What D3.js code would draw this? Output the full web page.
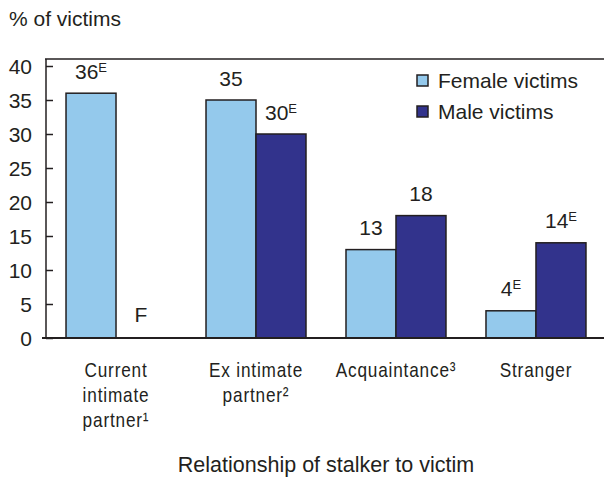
<!DOCTYPE html>
<html>
<head>
<meta charset="utf-8">
<script src="https://cdn.jsdelivr.net/npm/d3@7"></script>
<style>
  body { margin: 0; background: #fff; }
  text { font-family: "Liberation Sans", Arial, sans-serif; fill: #231f20; }
</style>
</head>
<body>
<div id="chart"></div>
<script>
// data
var categories = ["Current", "Ex", "Acquaintance", "Stranger"];
var catLines = [["Current", "intimate", "partner\u00b9"], ["Ex intimate", "partner\u00b2"], ["Acquaintance\u00b3"], ["Stranger"]];
var series = ["Female victims", "Male victims"];
var female = [36, 35, 13, 4];
var male = [null, 30, 18, 14];
var femaleLabel = ["36", "35", "13", "4"];
var femaleE = [true, false, false, true];
var maleLabel = ["F", "30", "18", "14"];
var maleE = [false, true, false, true];
var yTicks = [0, 5, 10, 15, 20, 25, 30, 35, 40];

var colors = ["#94c9ec", "#32338c"];

var svgWidth = 604, svgHeight = 478;
var fs = 21;

var svg = d3.select("#chart").append("svg")
  .attr("width", svgWidth)
  .attr("height", svgHeight);

var x0 = d3.scaleBand()
  .domain(categories)
  .range([46, 606])
  .paddingInner(0.2857)
  .paddingOuter(0.143);

var x1 = d3.scaleBand()
  .domain(series)
  .range([0, x0.bandwidth()]);

var y = d3.scaleLinear()
  .domain([0, 40])
  .range([338, 66]);

// rows of data per category
var rows = categories.map(function(c, i) {
  return [
    {cat: c, s: series[0], v: female[i], lab: femaleLabel[i], e: femaleE[i]},
    {cat: c, s: series[1], v: male[i], lab: maleLabel[i], e: maleE[i]}
  ];
});

// y axis, ticks pointing inward
var yAxis = svg.append("g")
  .attr("transform", "translate(46,0)")
  .call(d3.axisRight(y).tickValues(yTicks).tickSize(7).tickFormat(""));
yAxis.select(".domain").remove();
yAxis.selectAll("line").attr("stroke", "#231f20").attr("stroke-width", 1.5);

svg.selectAll(".ylab").data(yTicks).enter().append("text")
  .attr("x", 32)
  .attr("y", d => y(d) + 7.5)
  .attr("text-anchor", "end")
  .attr("font-size", fs)
  .text(d => d);

// frame lines
svg.append("line").attr("x1", 46).attr("x2", 46).attr("y1", 59).attr("y2", 338)
  .attr("stroke", "#231f20").attr("stroke-width", 1.5);
svg.append("line").attr("x1", 45).attr("x2", 604).attr("y1", 59).attr("y2", 59)
  .attr("stroke", "#231f20").attr("stroke-width", 1.5);

// bars
var groups = svg.selectAll(".grp").data(rows).enter().append("g")
  .attr("transform", (d, i) => "translate(" + x0(categories[i]) + ",0)");

groups.selectAll("rect").data(d => d.filter(r => r.v != null)).enter().append("rect")
  .attr("x", d => x1(d.s))
  .attr("y", d => y(d.v))
  .attr("width", x1.bandwidth())
  .attr("height", d => y(0) - y(d.v))
  .attr("fill", d => d.s == series[0] ? colors[0] : colors[1])
  .attr("stroke", "#231f20")
  .attr("stroke-width", 1.5);

var vlab = groups.selectAll(".vlab").data(d => d).enter().append("text")
  .attr("x", d => x1(d.s) + x1.bandwidth() / 2)
  .attr("y", d => (d.v == null ? y(0) - 16 : y(d.v) - 14.5))
  .attr("text-anchor", "middle")
  .attr("font-size", fs);
vlab.append("tspan").text(d => d.lab);
vlab.filter(d => d.e).append("tspan")
  .attr("font-size", 13)
  .attr("dy", -7)
  .text("E");

// bottom line
svg.append("line").attr("x1", 42).attr("x2", 604).attr("y1", y(0)).attr("y2", y(0))
  .attr("stroke", "#231f20").attr("stroke-width", 2);

// category labels, narrow look by squeezing horizontally
catLines.forEach(function(lines, i) {
  var t = svg.append("g")
    .attr("transform", "translate(" + (x0(categories[i]) + x0.bandwidth() / 2) + ",0) scale(0.82,1)")
    .append("text")
    .attr("text-anchor", "middle")
    .attr("letter-spacing", 1)
    .attr("font-size", fs);
  lines.forEach(function(l, j) {
    t.append("tspan")
      .attr("x", 0)
      .attr("y", 377 + j * 25)
      .text(l);
  });
});

// legend
var legend = svg.selectAll(".leg").data(series).enter().append("g")
  .attr("transform", (d, i) => "translate(417," + (75 + i * 31) + ")");
legend.append("rect")
  .attr("width", 11).attr("height", 11)
  .attr("fill", (d, i) => colors[i])
  .attr("stroke", "#231f20").attr("stroke-width", 1.5);
legend.append("text")
  .attr("x", 21).attr("y", 12.5)
  .attr("font-size", fs)
  .text(d => d);

// axis titles
svg.append("text")
  .attr("x", 9).attr("y", 26)
  .attr("font-size", fs)
  .text("% of victims");

svg.append("text")
  .attr("x", 326).attr("y", 472)
  .attr("text-anchor", "middle")
  .attr("font-size", 21.5)
  .text("Relationship of stalker to victim");
</script>
</body>
</html>
